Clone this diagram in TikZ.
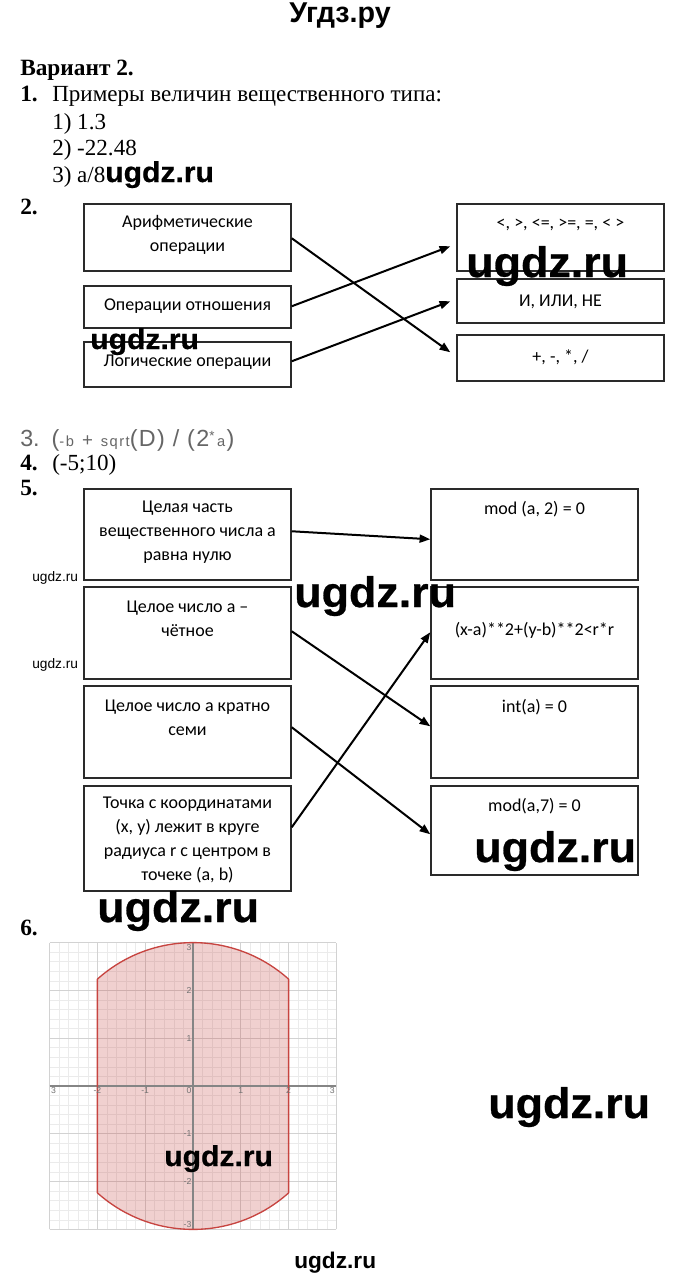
\documentclass[tikz,border=0pt]{standalone}
\usepackage{fontspec}
\setmainfont{Liberation Serif}
\newfontfamily\boxf{Carlito}
\newfontfamily\sansf{Liberation Sans}
\newfontfamily\wmf[FakeStretch=1.05,FakeBold=0.6]{Liberation Sans}
\usetikzlibrary{arrows.meta,calc,fit}
\definecolor{desred}{HTML}{C74440}
\definecolor{gridmin}{HTML}{EBEBEB}
\definecolor{gridmaj}{HTML}{D2D2D2}
\definecolor{axisgray}{HTML}{858585}
\definecolor{boxline}{HTML}{2A2A2A}
\begin{document}
\begin{tikzpicture}[x=0.75pt,y=-0.75pt,
  box/.style={draw=boxline,line width=1.1pt,inner sep=0pt},
  btext/.style={font=\boxf\fontsize{13.5}{18}\selectfont,align=center,inner sep=0pt,anchor=center},
  arr/.style={line width=1.5pt,-{Triangle[length=8pt,width=6pt]}},
  serif/.style={font=\fontsize{17.3}{17.3}\selectfont,anchor=base west,inner sep=0pt},
  serifb/.style={font=\bfseries\fontsize{17.5}{17.5}\selectfont,anchor=base west,inner sep=0pt},
  wmbig/.style={font=\wmf\bfseries\fontsize{32}{32}\selectfont,anchor=base west,inner sep=0pt},
  wmmid/.style={font=\wmf\bfseries\fontsize{21.5}{21.5}\selectfont,anchor=base west,inner sep=0pt},
  wmsmall/.style={font=\sansf\fontsize{10.3}{10.3}\selectfont,anchor=base west,inner sep=0pt},
  ticklab/.style={font=\sansf\fontsize{6.5}{6.5}\selectfont,text=black!55,inner sep=1pt}]
\useasboundingbox[fill=white] (0,0) rectangle (680,1281);

% header
\node[font=\sansf\bfseries\fontsize{21.5}{21.5}\selectfont,anchor=base,inner sep=0pt] (title) at (340,23) {Угдз.ру};
\node[serifb] (var) at (20,75) {Вариант 2.};
\node[serifb] (n1) at (20,102) {1.};
\node[serif] (q1) at (52,102) {Примеры величин вещественного типа:};
\node[serif] (q1a) at (52,129) {1) 1.3};
\node[serif] (q1b) at (52,155) {2) -22.48};
\node[serif] (q1c) at (52,182) {3) a/8};
\node[serifb] (n2) at (20,214) {2.};

% task 2 boxes
\node[box,fit={(84,204) (291,271)}] (A1) {};
\node[box,fit={(84,286) (291,328)}] (A2) {};
\node[box,fit={(84,342) (291,387)}] (A3) {};
\node[box,fit={(457,204) (664,271)}] (B1) {};
\node[box,fit={(457,279) (664,323)}] (B2) {};
\node[box,fit={(457,335) (664,381)}] (B3) {};
\node[btext] (A1t) at (187.5,235) {Арифметические\\операции};
\node[btext] (A2t) at (187.5,306) {Операции отношения};
\node[btext] (A3t) at (187.5,362) {Логические операции};
\node[btext] (B1t) at (560.5,225) {<, >, <=, >=, =, < >};
\node[btext] (B2t) at (560.5,302) {И, ИЛИ, НЕ};
\node[btext] (B3t) at (560.5,357) {+, -, *, /};
\draw[arr] ($(A1.north east)+(0,35)$) -- ($(B3.north west)+(-6,18)$);
\draw[arr] ($(A2.north east)+(0,21)$) -- ($(B1.north west)+(-6,43)$);
\draw[arr] ($(A3.north east)+(0,20)$) -- ($(B2.north west)+(-6,23)$);

% task 3, 4
\node[anchor=base west,inner sep=0pt,text=black!60,font=\sansf\fontsize{17.5}{17.5}\selectfont] (q3) at (20,446)
  {3.\hspace{9pt}(\fontsize{11}{11}\selectfont\addfontfeatures{LetterSpace=10}-b\hspace{6pt}\fontsize{14}{14}\selectfont+\hspace{6pt}\fontsize{11}{11}\selectfont sqrt\fontsize{17.5}{17.5}\selectfont\addfontfeatures{LetterSpace=6}(D) / (2\raisebox{4.5pt}{\fontsize{10}{10}\selectfont*}\fontsize{11}{11}\selectfont\hspace{2pt}a\hspace{1pt}\fontsize{17.5}{17.5}\selectfont)};
\node[serifb] (n4) at (20,470) {4.};
\node[serif] (q4) at (52,470) {(-5;10)};
\node[serifb] (n5) at (20,495) {5.};

% task 5 boxes
\node[box,fit={(84,489) (291,580)}] (L1) {};
\node[box,fit={(84,587) (291,679)}] (L2) {};
\node[box,fit={(84,686) (291,778)}] (L3) {};
\node[box,fit={(84,786) (291,891)}] (L4) {};
\node[box,fit={(431,489) (638,580)}] (R1) {};
\node[box,fit={(431,587) (638,679)}] (R2) {};
\node[box,fit={(431,686) (638,778)}] (R3) {};
\node[box,fit={(431,786) (638,875)}] (R4) {};
\node[btext] (L1t) at (187.5,532) {Целая часть\\вещественного числа а\\равна нулю};
\node[btext] (L2t) at (187.5,619) {Целое число а –\\чётное};
\node[btext] (L3t) at (187.5,718) {Целое число а кратно\\семи};
\node[btext] (L4t) at (187.5,840) {Точка с координатами\\(x, y) лежит в круге\\радиуса r с центром в\\точеке (a, b)};
\node[btext] (R1t) at (534.5,509) {mod (a, 2) = 0};
\node[btext] (R2t) at (534.5,630) {(x-a)**2+(y-b)**2<r*r};
\node[btext] (R3t) at (534.5,707) {int(a) = 0};
\node[btext] (R4t) at (534.5,806) {mod(a,7) = 0};
\draw[arr] ($(L1.north east)+(0,43)$) -- ($(R1.north west)+(0,51)$);
\draw[arr] ($(L2.north east)+(0,45)$) -- ($(R3.north west)+(0,41)$);
\draw[arr] ($(L3.north east)+(0,42)$) -- ($(R4.north west)+(0,49)$);
\draw[arr] ($(L4.north east)+(0,42)$) -- ($(R2.north west)+(0,46)$);

% task 6
\node[serifb] (n6) at (20,935) {6.};
\coordinate (O) at (193,1086);
\begin{scope}[shift={(O)},x=35.85pt,y=35.85pt]
  \draw[gridmin,line width=0.5pt] (-3,-3) grid[step=0.2] (3,3);
  \draw[gridmaj,line width=0.6pt] (-3,-3) grid[step=1] (3,3);
  \fill[desred,fill opacity=0.25] (-2,-2.2361) -- (-2,2.2361) arc[start angle=131.81,end angle=48.19,radius=3] -- (2,-2.2361) arc[start angle=-48.19,end angle=-131.81,radius=3] -- cycle;
  \draw[axisgray,line width=0.9pt] (-3,0) -- (3,0);
  \draw[axisgray,line width=0.9pt] (0,-3) -- (0,3);
  \draw[desred,line width=1pt,line join=round] (-2,-2.2361) -- (-2,2.2361) arc[start angle=131.81,end angle=48.19,radius=3] -- (2,-2.2361) arc[start angle=-48.19,end angle=-131.81,radius=3] -- cycle;
  \node[ticklab,anchor=north west] (tx-3) at (-3,0) {3};
  \node[ticklab,anchor=north] (tx-2) at (-2,0) {-2};
  \node[ticklab,anchor=north] (tx-1) at (-1,0) {-1};
  \node[ticklab,anchor=north east] (tx0) at (0,0) {0};
  \node[ticklab,anchor=north] (tx1) at (1,0) {1};
  \node[ticklab,anchor=north] (tx2) at (2,0) {2};
  \node[ticklab,anchor=north east] (tx3) at (3,0) {3};
  \node[ticklab,anchor=east] (ty2) at (0,2) {2};
  \node[ticklab,anchor=east] (ty1) at (0,1) {1};
  \node[ticklab,anchor=east] (ty-1) at (0,-1) {-1};
  \node[ticklab,anchor=east] (ty-2) at (0,-2) {-2};
  \node[ticklab,anchor=north east] (ty3) at (0,3) {3};
  \node[ticklab,anchor=south east] (ty-3) at (0,-3) {-3};
\end{scope}

% watermarks
\node[wmmid] (w1) at (105,182) {ugdz.ru};
\node[wmbig] (w2) at (466,277) {ugdz.ru};
\node[wmmid] (w3) at (90,349) {ugdz.ru};
\node[wmsmall] (w4) at (32,581) {ugdz.ru};
\node[wmsmall] (w5) at (32,668) {ugdz.ru};
\node[wmbig] (w6) at (294,607) {ugdz.ru};
\node[wmbig] (w7) at (474,862) {ugdz.ru};
\node[wmbig] (w8) at (97,922) {ugdz.ru};
\node[wmbig] (w9) at (488,1118) {ugdz.ru};
\node[wmmid] (w10) at (164,1166) {ugdz.ru};
\node[font=\sansf\bfseries\fontsize{17}{17}\selectfont,anchor=base west,inner sep=0pt] (w11) at (294,1268) {ugdz.ru};
\end{tikzpicture}
\end{document}
